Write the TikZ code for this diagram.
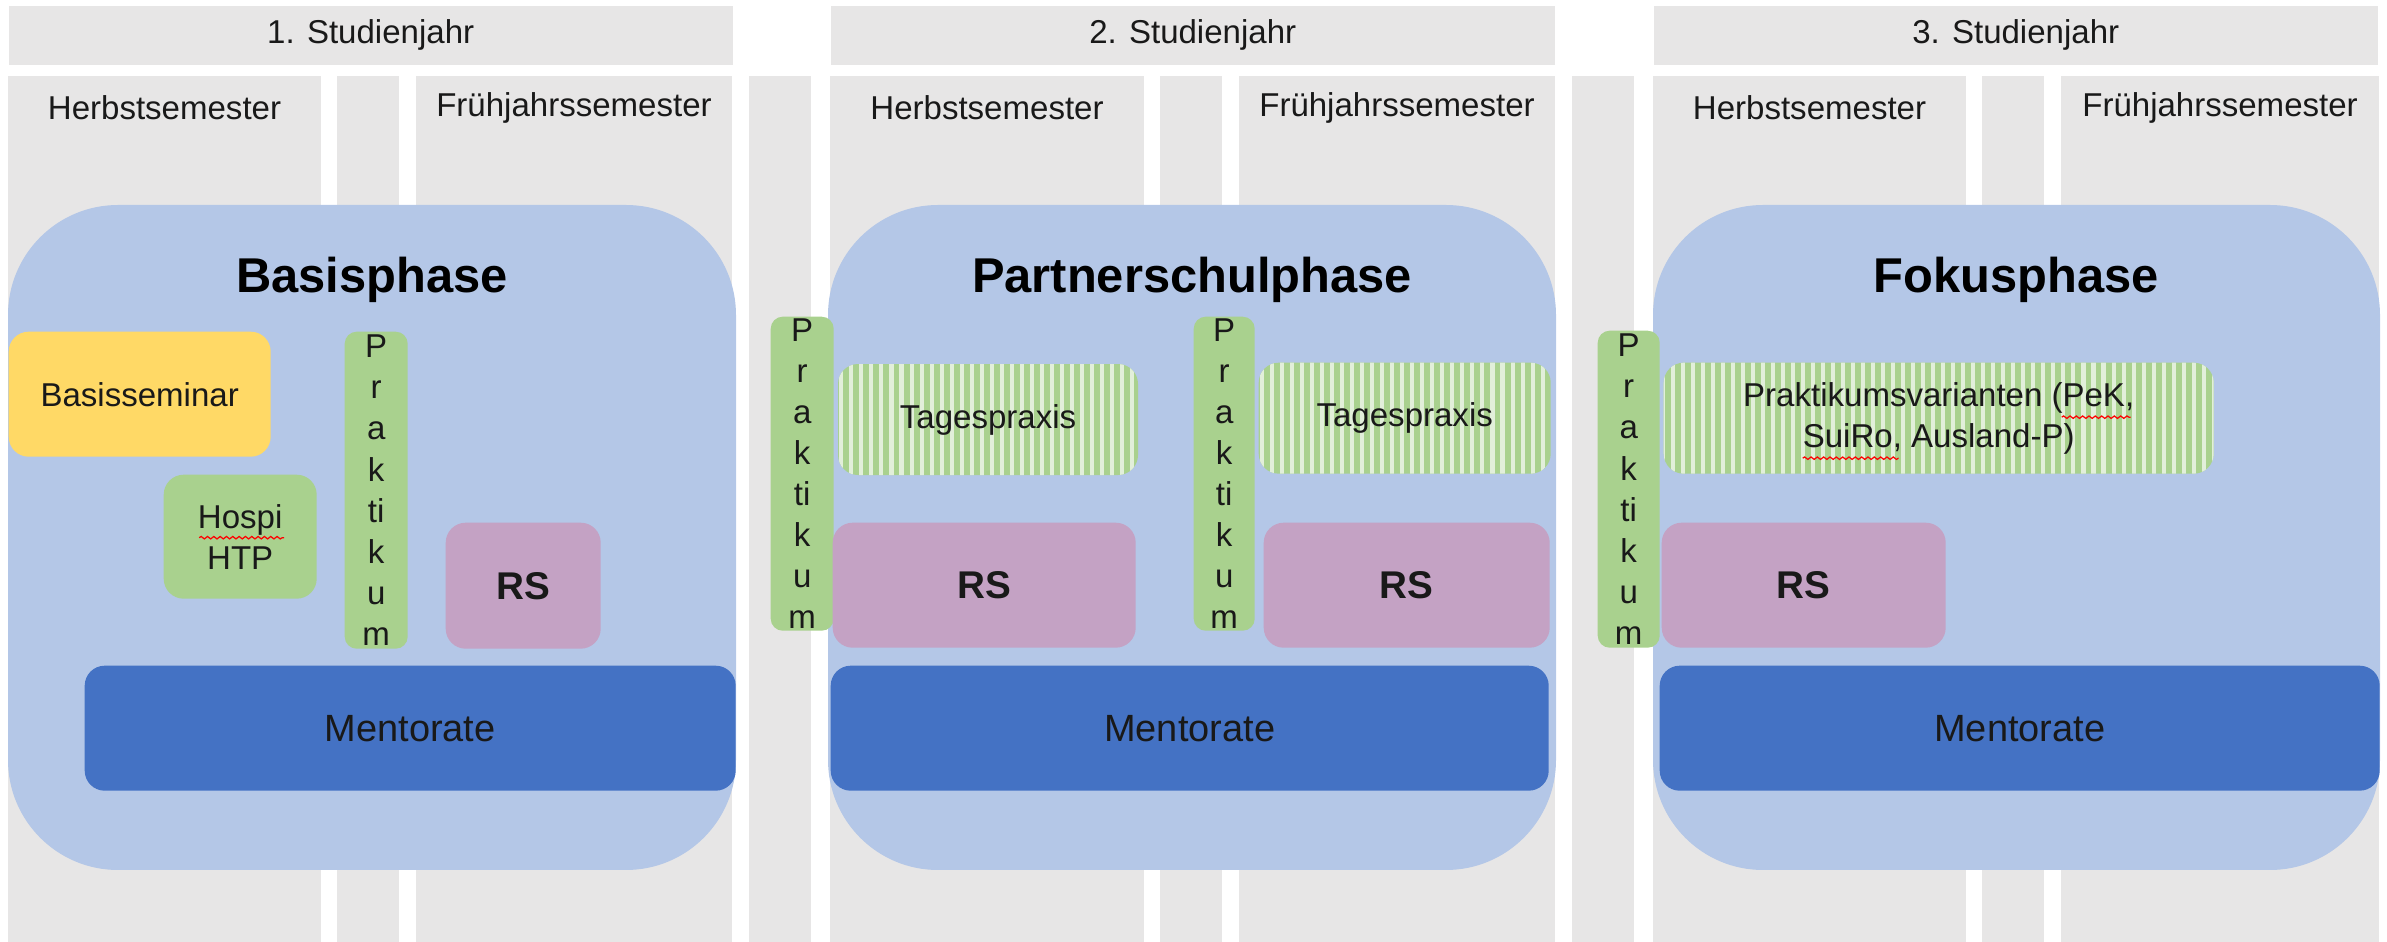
\documentclass[tikz,border=0pt]{standalone}
\usepackage{fontspec}
\setmainfont{Liberation Sans}
\usetikzlibrary{patterns.meta, decorations.pathmorphing}

\definecolor{colgray}{HTML}{E7E6E6}
\definecolor{phaseblue}{HTML}{B4C7E7}
\definecolor{seminaryellow}{HTML}{FFD966}
\definecolor{prakgreen}{HTML}{A9D18E}
\definecolor{stripelight}{HTML}{E2EFDA}
\definecolor{rsmauve}{HTML}{C4A2C4}
\definecolor{mentorblue}{HTML}{4472C4}

\tikzset{
    txt/.style={font=\fontsize{9.4}{11.7}\selectfont, text=black!90, align=center},
    hdr/.style={txt, fill=colgray, inner sep=0pt, anchor=north west},
    phase/.style={fill=phaseblue, rounded corners=1.1cm},
    phasetitle/.style={font=\fontsize{13.9}{16}\selectfont\bfseries},
    box/.style={txt, inner sep=0pt, anchor=north west, rounded corners=0.2cm},
    praktbox/.style={box, fill=prakgreen, rounded corners=0.12cm},
    stripebox/.style={box, preaction={fill=prakgreen}, pattern={Lines[angle=90, distance=2.85pt, line width=1.15pt]}, pattern color=stripelight},
    rsbox/.style={box, fill=rsmauve, font=\fontsize{11}{13}\selectfont\bfseries},
    mentorbox/.style={box, fill=mentorblue, font=\fontsize{10.8}{13}\selectfont},
    squiggle/.style={red, line width=0.35pt, decorate, decoration={snake, amplitude=0.35pt, segment length=1.8pt}},
}

\begin{document}
\begin{tikzpicture}[x=1cm, y=-1cm]
        \useasboundingbox (0,0) rectangle (23.87,9.42);
        % years
        \node[hdr, minimum width=7.24cm, minimum height=0.59cm] (jahr1) at (0.08,0.05) {1. Studienjahr};
        \node[hdr, minimum width=7.24cm, minimum height=0.59cm] (jahr2) at (8.30,0.05) {2. Studienjahr};
        \node[hdr, minimum width=7.24cm, minimum height=0.59cm] (jahr3) at (16.53,0.05) {3. Studienjahr};
        % semester columns
        \fill[colgray] (0.08,0.76) rectangle (3.21,9.42);
        \fill[colgray] (3.37,0.76) rectangle (3.99,9.42);
        \fill[colgray] (4.16,0.76) rectangle (7.32,9.42);
        \fill[colgray] (7.49,0.76) rectangle (8.11,9.42);
        \fill[colgray] (8.30,0.76) rectangle (11.44,9.42);
        \fill[colgray] (11.60,0.76) rectangle (12.22,9.42);
        \fill[colgray] (12.39,0.76) rectangle (15.55,9.42);
        \fill[colgray] (15.72,0.76) rectangle (16.34,9.42);
        \fill[colgray] (16.53,0.76) rectangle (19.66,9.42);
        \fill[colgray] (19.82,0.76) rectangle (20.44,9.42);
        \fill[colgray] (20.61,0.76) rectangle (23.79,9.42);
        \node[txt] (hs1) at (1.645,1.08) {Herbstsemester};
        \node[txt] (fs1) at (5.74,1.08) {Frühjahrssemester};
        \node[txt] (hs2) at (9.87,1.08) {Herbstsemester};
        \node[txt] (fs2) at (13.97,1.08) {Frühjahrssemester};
        \node[txt] (hs3) at (18.095,1.08) {Herbstsemester};
        \node[txt] (fs3) at (22.20,1.08) {Frühjahrssemester};
        % phases
        \fill[phase] (0.08,2.05) rectangle (7.36,8.70);
        \fill[phase] (8.28,2.05) rectangle (15.56,8.70);
        \fill[phase] (16.53,2.05) rectangle (23.80,8.70);
        \node[phasetitle] (basis) at (3.72,2.80) {Basisphase};
        \node[phasetitle] (partner) at (11.92,2.80) {Partnerschulphase};
        \node[phasetitle] (fokus) at (20.16,2.80) {Fokusphase};
        % 1. Studienjahr
        \node[box, fill=seminaryellow, minimum width=2.62cm, minimum height=1.25cm] (seminar) at (0.08,3.31) {Basisseminar};
        \node[box, fill=prakgreen, minimum width=1.53cm, minimum height=1.24cm] (hospi) at (1.63,4.74) {Hospi\\HTP};
        \node[praktbox, minimum width=0.63cm, minimum height=3.17cm] (prakt1) at (3.44,3.31) {P\\r\\a\\k\\ti\\k\\u\\m};
        \node[rsbox, minimum width=1.55cm, minimum height=1.26cm] (rs1) at (4.45,5.22) {RS};
        \node[mentorbox, minimum width=6.51cm, minimum height=1.25cm] (mentor1) at (0.84,6.65) {Mentorate};
        % 2. Studienjahr
        \node[praktbox, minimum width=0.63cm, minimum height=3.14cm] (prakt2) at (7.70,3.16) {P\\r\\a\\k\\ti\\k\\u\\m};
        \node[stripebox, minimum width=3.00cm, minimum height=1.11cm] (tages1) at (8.36,3.62) {Tagespraxis};
        \node[rsbox, minimum width=3.03cm, minimum height=1.25cm] (rs2) at (8.32,5.22) {RS};
        \node[praktbox, minimum width=0.61cm, minimum height=3.14cm] (prakt3) at (11.93,3.16) {P\\r\\a\\k\\ti\\k\\u\\m};
        \node[stripebox, minimum width=2.92cm, minimum height=1.11cm] (tages2) at (12.58,3.62) {Tagespraxis};
        \node[rsbox, minimum width=2.86cm, minimum height=1.25cm] (rs3) at (12.63,5.22) {RS};
        \node[mentorbox, minimum width=7.18cm, minimum height=1.25cm] (mentor2) at (8.30,6.65) {Mentorate};
        % 3. Studienjahr
        \node[praktbox, minimum width=0.62cm, minimum height=3.17cm] (prakt4) at (15.97,3.30) {P\\r\\a\\k\\ti\\k\\u\\m};
        \node[stripebox, minimum width=5.50cm, minimum height=1.11cm] (varianten) at (16.63,3.62) {Praktikumsvarianten (PeK,\\SuiRo, Ausland-P)};
        \node[rsbox, minimum width=2.84cm, minimum height=1.25cm] (rs4) at (16.61,5.22) {RS};
        \node[mentorbox, minimum width=7.20cm, minimum height=1.25cm] (mentor3) at (16.59,6.65) {Mentorate};
        % spell-check marks
        \draw[squiggle] ([xshift=-0.41cm, yshift=-0.01cm]hospi.center) -- ([xshift=0.44cm, yshift=-0.01cm]hospi.center);
        \draw[squiggle] ([xshift=1.23cm, yshift=0.01cm]varianten.center) -- ([xshift=1.92cm, yshift=0.01cm]varianten.center);
        \draw[squiggle] ([xshift=-1.36cm, yshift=-0.40cm]varianten.center) -- ([xshift=-0.40cm, yshift=-0.40cm]varianten.center);
    \end{tikzpicture}
\end{document}
